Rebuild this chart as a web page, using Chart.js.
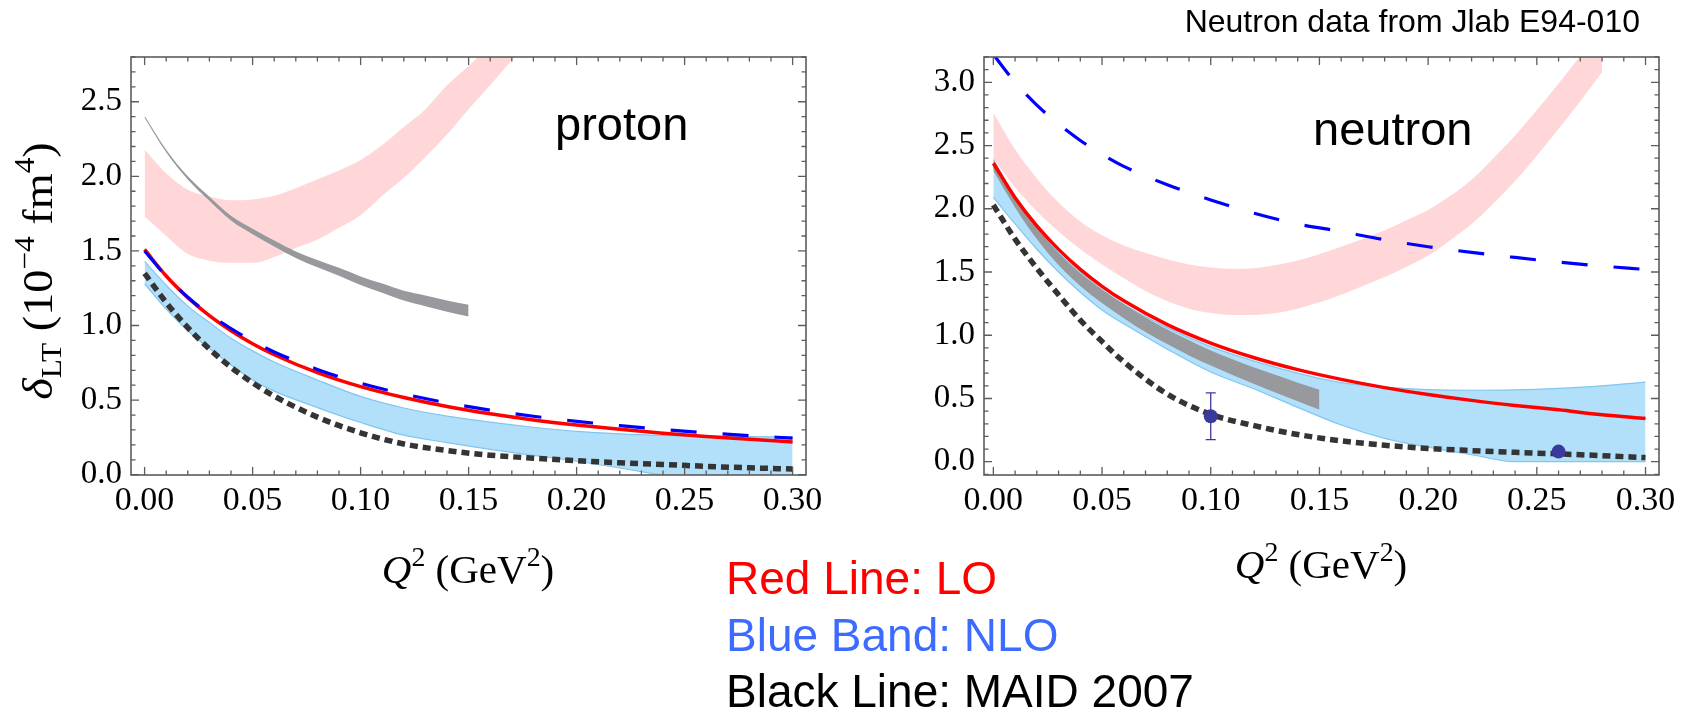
<!DOCTYPE html>
<html>
<head>
<meta charset="utf-8">
<script src="https://cdn.jsdelivr.net/npm/chart.js@4.4.0/dist/chart.umd.min.js"></script>
<style>
body { margin: 0; background: #fff; }
#wrap { position: relative; width: 1690px; height: 712px; overflow: hidden; background: #fff; }
canvas { position: absolute; top: 0; }
.lbl { position: absolute; white-space: nowrap; line-height: 1; }
.sans { font-family: "Liberation Sans", Arial, sans-serif; }
.serif { font-family: "Liberation Serif", "Times New Roman", serif; }
sup { font-size: 0.68em; vertical-align: 0; position: relative; top: -0.62em; }
sub { font-size: 0.68em; vertical-align: 0; position: relative; top: 0.3em; }
#note { right: 50px; top: 5px; font-size: 32px; color: #000; }
#ptext { left: 555px; top: 100px; font-size: 47px; }
#ntext { left: 1313px; top: 105px; font-size: 47px; }
#ytitle { left: -162px; top: 250px; width: 400px; text-align: center; font-size: 42px; transform: rotate(-90deg) scaleX(1.1); }
.xtitle { width: 400px; text-align: center; font-size: 41px; }
#leg1 { left: 726px; top: 555px; font-size: 46px; color: #ff0000; }
#leg2 { left: 726px; top: 612px; font-size: 46px; color: #3d6bff; }
#leg3 { left: 726px; top: 668px; font-size: 46px; color: #000; }
</style>
</head>
<body>
<div id="wrap">
  <canvas id="proton" width="845" height="712" style="left:0px"></canvas>
  <canvas id="neutron" width="845" height="712" style="left:845px"></canvas>
  <div class="lbl sans" id="note">Neutron data from Jlab E94-010</div>
  <div class="lbl sans" id="ptext">proton</div>
  <div class="lbl sans" id="ntext">neutron</div>
  <div class="lbl serif" id="ytitle"><i>δ</i><sub>LT</sub> (10<sup>−4</sup> fm<sup>4</sup>)</div>
  <div class="lbl serif xtitle" style="left:268px; top:549px"><i>Q</i><sup>2</sup> (GeV<sup>2</sup>)</div>
  <div class="lbl serif xtitle" style="left:1121px; top:544px"><i>Q</i><sup>2</sup> (GeV<sup>2</sup>)</div>
  <div class="lbl sans" id="leg1">Red Line: LO</div>
  <div class="lbl sans" id="leg2">Blue Band: NLO</div>
  <div class="lbl sans" id="leg3">Black Line: MAID 2007</div>
</div>
<script>
// Q^2 grid (GeV^2) and tick labels
const xGrid = [0, 0.01, 0.02, 0.03, 0.04, 0.05, 0.06, 0.08, 0.10, 0.12, 0.14, 0.16, 0.18, 0.20, 0.22, 0.24, 0.26, 0.28, 0.30];
const xTicks = [0, 0.05, 0.10, 0.15, 0.20, 0.25, 0.30];
const yTicksP = [0, 0.5, 1.0, 1.5, 2.0, 2.5];
const yTicksN = [0, 0.5, 1.0, 1.5, 2.0, 2.5, 3.0];

// proton
const pLO = [1.51, 1.332, 1.187, 1.066, 0.965, 0.878, 0.804, 0.684, 0.590, 0.517, 0.457, 0.408, 0.367, 0.333, 0.304, 0.278, 0.256, 0.237, 0.220];
const pDash = [1.50, 1.33, 1.19, 1.075, 0.98, 0.895, 0.823, 0.706, 0.613, 0.541, 0.482, 0.433, 0.392, 0.358, 0.329, 0.303, 0.281, 0.262, 0.245];
const pMAID = [1.35, 1.154, 0.986, 0.843, 0.720, 0.616, 0.527, 0.386, 0.281, 0.206, 0.162, 0.131, 0.111, 0.094, 0.080, 0.069, 0.056, 0.046, 0.038];
const pNLOhi = [1.43, 1.27, 1.13, 1.02, 0.915, 0.83, 0.755, 0.635, 0.525, 0.447, 0.393, 0.352, 0.318, 0.29, 0.274, 0.264, 0.258, 0.255, 0.253];
const pNLOlo = [1.28, 1.11, 0.965, 0.845, 0.735, 0.635, 0.56, 0.45, 0.35, 0.265, 0.215, 0.17, 0.13, 0.09, 0.045, -0.005, -0.06, -0.115, -0.17];
const pPinkX = [0, 0.01, 0.02, 0.03, 0.04, 0.05, 0.06, 0.07, 0.08, 0.09, 0.10, 0.11, 0.12, 0.13, 0.14, 0.15, 0.16, 0.17, 0.18];
const pPinkHi = [2.18, 2.02, 1.91, 1.865, 1.84, 1.845, 1.87, 1.92, 1.98, 2.04, 2.11, 2.21, 2.33, 2.45, 2.61, 2.74, 2.88, 3.03, 3.2];
const pPinkLo = [1.73, 1.60, 1.48, 1.435, 1.42, 1.42, 1.46, 1.52, 1.575, 1.655, 1.74, 1.87, 1.99, 2.13, 2.28, 2.45, 2.61, 2.78, 2.95];
const grayX = [0, 0.01, 0.02, 0.03, 0.04, 0.05, 0.06, 0.07, 0.08, 0.09, 0.10, 0.11, 0.12, 0.13, 0.14, 0.15];
const pGrayHi = [2.407, 2.179, 2.001, 1.864, 1.736, 1.648, 1.570, 1.497, 1.440, 1.387, 1.329, 1.281, 1.233, 1.201, 1.168, 1.140];
const pGrayLo = [2.393, 2.161, 1.979, 1.836, 1.704, 1.612, 1.530, 1.453, 1.390, 1.333, 1.271, 1.219, 1.167, 1.129, 1.092, 1.060];

// neutron
const nLO = [2.36, 2.088, 1.865, 1.679, 1.521, 1.387, 1.272, 1.084, 0.938, 0.822, 0.728, 0.651, 0.586, 0.532, 0.485, 0.445, 0.410, 0.372, 0.342];
const nDash = [3.22, 3.00, 2.82, 2.67, 2.54, 2.43, 2.335, 2.19, 2.07, 1.965, 1.88, 1.82, 1.755, 1.70, 1.655, 1.615, 1.578, 1.547, 1.52];
const nMAID = [2.03, 1.76, 1.53, 1.32, 1.12, 0.95, 0.79, 0.535, 0.375, 0.285, 0.215, 0.165, 0.13, 0.105, 0.088, 0.074, 0.062, 0.048, 0.032];
const nNLOhi = [2.33, 2.06, 1.84, 1.65, 1.495, 1.36, 1.245, 1.06, 0.91, 0.795, 0.70, 0.625, 0.59, 0.57, 0.565, 0.568, 0.58, 0.60, 0.63];
const nNLOlo = [2.09, 1.88, 1.68, 1.50, 1.34, 1.20, 1.09, 0.89, 0.71, 0.575, 0.43, 0.29, 0.185, 0.115, 0.055, 0.0, 0.0, 0.0, 0.0];
const nGrayHi = [2.40, 2.10, 1.85, 1.65, 1.49, 1.36, 1.245, 1.14, 1.045, 0.96, 0.88, 0.81, 0.745, 0.685, 0.625, 0.57];
const nGrayLo = [2.30, 2.01, 1.76, 1.555, 1.39, 1.255, 1.135, 1.025, 0.93, 0.84, 0.76, 0.685, 0.615, 0.545, 0.478, 0.41];
const nPinkX = [0, 0.01, 0.02, 0.03, 0.04, 0.05, 0.06, 0.07, 0.08, 0.09, 0.10, 0.11, 0.12, 0.13, 0.14, 0.15, 0.16, 0.17, 0.18, 0.19, 0.20, 0.21, 0.22, 0.23, 0.24, 0.25, 0.26, 0.27, 0.28];
const nPinkHi = [2.76, 2.47, 2.24, 2.05, 1.90, 1.79, 1.71, 1.65, 1.60, 1.56, 1.535, 1.525, 1.53, 1.555, 1.59, 1.64, 1.70, 1.76, 1.83, 1.91, 1.99, 2.10, 2.23, 2.40, 2.58, 2.78, 2.99, 3.21, 3.45];
const nPinkLo = [2.40, 2.17, 1.98, 1.82, 1.68, 1.56, 1.45, 1.35, 1.27, 1.21, 1.175, 1.16, 1.16, 1.175, 1.21, 1.26, 1.32, 1.39, 1.46, 1.54, 1.63, 1.75, 1.88, 2.04, 2.22, 2.42, 2.63, 2.85, 3.08];

// Jlab E94-010 neutron points
const nQ2 = [0.10, 0.26];
const nData = [0.36, 0.08];
const nErr = [0.185, 0.015];

const RED = 'rgb(255,0,0)';
const DASHBLUE = 'rgb(0,0,255)';
const MAIDCOL = 'rgb(52,52,52)';
const NLOFILL = 'rgb(178,224,250)';
const NLOEDGE = 'rgb(128,198,240)';
const PINK = 'rgb(255,215,217)';
const GRAY = 'rgb(152,153,156)';
const FRAME = '#5c5c5c';

function pts(xs, ys) {
    return xs.map((x, i) => ({ x: x, y: ys[i] }));
}

function curve(xs, ys, color, width, dash, order) {
    return {
        data: pts(xs, ys), borderColor: color, borderWidth: width, borderDash: dash,
        borderCapStyle: 'butt', pointRadius: 0, fill: false,
        cubicInterpolationMode: 'monotone', order: order
    };
}

function band(xs, lo, hi, color, edge, order) {
    const w = edge ? 1.2 : 0;
    return [
        { data: pts(xs, lo), borderColor: edge || color, borderWidth: w, pointRadius: 0,
          fill: false, cubicInterpolationMode: 'monotone', order: order },
        { data: pts(xs, hi), borderColor: edge || color, borderWidth: w, pointRadius: 0,
          fill: '-1', backgroundColor: color, cubicInterpolationMode: 'monotone', order: order }
    ];
}

// frame with inward ticks on all four sides
const framePlugin = {
    id: 'frame',
    afterDatasetsDraw(chart) {
        const ctx = chart.ctx;
        const a = chart.chartArea;
        const x = chart.scales.x, y = chart.scales.y;
        ctx.save();
        ctx.strokeStyle = FRAME;
        ctx.lineWidth = 1.3;
        ctx.beginPath();
        for (let i = 0; i <= 30; i++) {
            const px = x.getPixelForValue(i / 100);
            const len = i % 5 === 0 ? 8 : 4.5;
            ctx.moveTo(px, a.bottom); ctx.lineTo(px, a.bottom - len);
            ctx.moveTo(px, a.top); ctx.lineTo(px, a.top + len);
        }
        for (let j = Math.ceil(y.min * 10); j <= Math.floor(y.max * 10); j++) {
            const py = y.getPixelForValue(j / 10);
            const len = j % 5 === 0 ? 8 : 4.5;
            ctx.moveTo(a.left, py); ctx.lineTo(a.left + len, py);
            ctx.moveTo(a.right, py); ctx.lineTo(a.right - len, py);
        }
        ctx.stroke();
        ctx.lineWidth = 1.6;
        ctx.strokeRect(a.left, a.top, a.right - a.left, a.bottom - a.top);
        ctx.restore();
    }
};

// error bars, drawn just before the points
const errPlugin = {
    id: 'errbars',
    beforeDatasetDraw(chart, args, opts) {
        if (!opts.errs || args.index !== opts.index) return;
        const ctx = chart.ctx;
        const x = chart.scales.x, y = chart.scales.y;
        ctx.save();
        ctx.strokeStyle = opts.color;
        ctx.lineWidth = 1.3;
        ctx.beginPath();
        opts.xs.forEach((q, i) => {
            const px = x.getPixelForValue(q);
            const top = y.getPixelForValue(opts.ys[i] + opts.errs[i]);
            const bot = y.getPixelForValue(opts.ys[i] - opts.errs[i]);
            ctx.moveTo(px, top); ctx.lineTo(px, bot);
            ctx.moveTo(px - 5, top); ctx.lineTo(px + 5, top);
            ctx.moveTo(px - 5, bot); ctx.lineTo(px + 5, bot);
        });
        ctx.stroke();
        ctx.restore();
    }
};

function options(xMin, xMax, yMin, yMax, yTicks, pad, errOpts) {
    return {
        responsive: false,
        animation: false,
        layout: { padding: pad },
        plugins: { legend: { display: false }, tooltip: { enabled: false }, errbars: errOpts },
        scales: {
            x: {
                type: 'linear', min: xMin, max: xMax,
                grid: { display: false, drawTicks: false }, border: { display: false },
                afterBuildTicks: s => { s.ticks = xTicks.map(v => ({ value: v })); },
                afterFit: s => { s.height = 70; },
                ticks: {
                    autoSkip: false, maxRotation: 0, padding: 6, color: '#000',
                    font: { family: 'Liberation Serif', size: 34 },
                    callback: v => v.toFixed(2)
                }
            },
            y: {
                type: 'linear', min: yMin, max: yMax,
                grid: { display: false, drawTicks: false }, border: { display: false },
                afterBuildTicks: s => { s.ticks = yTicks.map(v => ({ value: v })); },
                afterFit: s => { s.width = 120; },
                ticks: {
                    autoSkip: false, padding: 9, color: '#000',
                    font: { family: 'Liberation Serif', size: 33 },
                    callback: v => v.toFixed(1)
                }
            }
        }
    };
}

const protonChart = new Chart(document.getElementById('proton').getContext('2d'), {
    type: 'line',
    data: {
        datasets: [
            ...band(pPinkX, pPinkLo, pPinkHi, PINK, null, 10),
            ...band(xGrid, pNLOlo, pNLOhi, NLOFILL, NLOEDGE, 8),
            ...band(grayX, pGrayLo, pGrayHi, GRAY, null, 6),
            curve(xGrid, pMAID, MAIDCOL, 5.5, [8, 5], 4),
            curve(xGrid, pLO, RED, 3.5, [], 3),
            curve(xGrid, pDash, DASHBLUE, 3.2, [26, 26], 2)
        ]
    },
    options: options(-0.0063, 0.3062, -0.002, 2.8, yTicksP, { left: 11, right: 39, top: 57, bottom: 167 }, {}),
    plugins: [framePlugin, errPlugin]
});

const neutronChart = new Chart(document.getElementById('neutron').getContext('2d'), {
    type: 'line',
    data: {
        datasets: [
            ...band(nPinkX, nPinkLo, nPinkHi, PINK, null, 10),
            ...band(xGrid, nNLOlo, nNLOhi, NLOFILL, NLOEDGE, 8),
            ...band(grayX, nGrayLo, nGrayHi, GRAY, null, 6),
            curve(xGrid, nMAID, MAIDCOL, 5.5, [8, 5], 4),
            curve(xGrid, nLO, RED, 3.5, [], 3),
            curve(xGrid, nDash, DASHBLUE, 3.2, [26, 26], 2),
            { data: pts(nQ2, nData), showLine: false, pointRadius: 7, pointBorderWidth: 0,
              pointBackgroundColor: 'rgb(58,58,158)', order: 1 }
        ]
    },
    options: options(-0.0043, 0.3062, -0.105, 3.2, yTicksN, { left: 19, right: 31, top: 57, bottom: 167 },
        { index: 9, xs: nQ2, ys: nData, errs: nErr, color: 'rgb(58,58,158)' }),
    plugins: [framePlugin, errPlugin]
});
</script>
</body>
</html>
